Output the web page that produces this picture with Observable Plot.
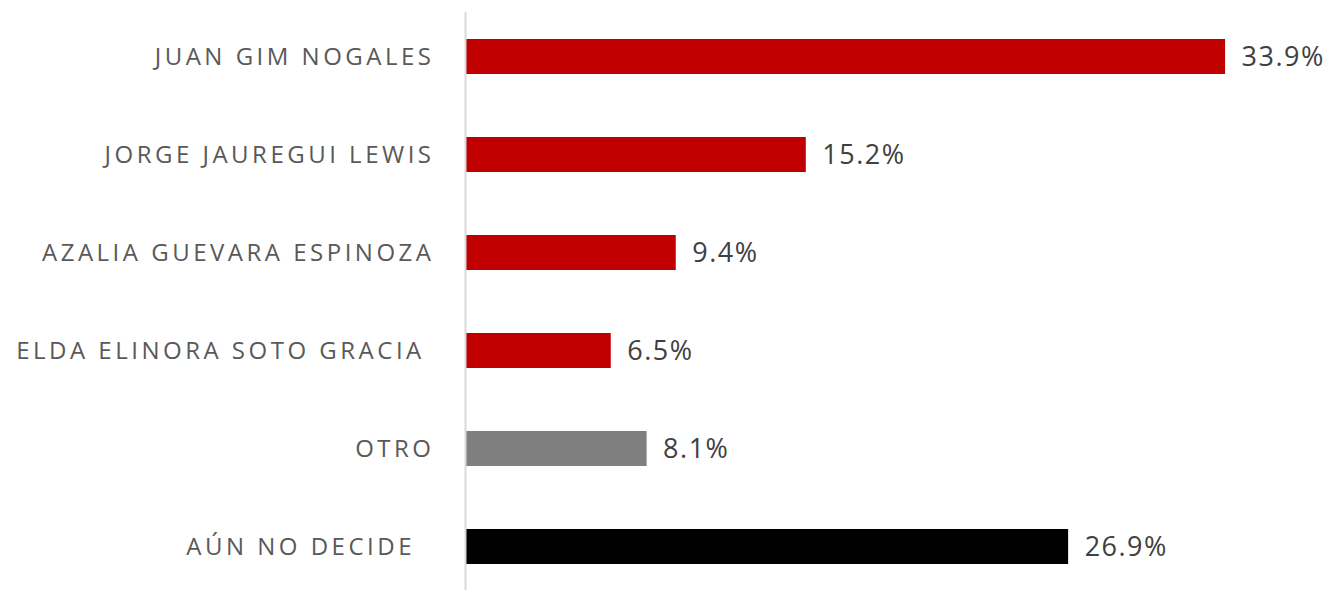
<!DOCTYPE html>
<html>
<head>
<meta charset="utf-8">
<script src="https://cdn.jsdelivr.net/npm/d3@7"></script>
<script src="https://cdn.jsdelivr.net/npm/@observablehq/plot@0.6"></script>
<style>
  html, body { margin: 0; padding: 0; background: #fff; }
  #chart svg { display: block; }
  .chart g[aria-label="y-axis tick label"] text { letter-spacing: 3.5px; }
  .chart g[aria-label="text"] text { letter-spacing: 1.5px; }
</style>
</head>
<body>
<div id="chart"></div>
<script>
const categories = ["JUAN GIM NOGALES", "JORGE JAUREGUI LEWIS", "AZALIA GUEVARA ESPINOZA", "ELDA ELINORA SOTO GRACIA\u00a0", "OTRO", "AÚN NO DECIDE\u00a0\u00a0"];
const values = [33.9, 15.2, 9.4, 6.5, 8.1, 26.9];
const groups = ["cand", "cand", "cand", "cand", "otro", "nd"];
const groupColors = {cand: "#c00000", otro: "#7f7f7f", nd: "#000000"};

const data = categories.map((c, i) => ({name: c, value: values[i], group: groups[i]}));

const chart = Plot.plot({
  className: "chart",
  width: 1329,
  height: 592,
  marginLeft: 465,
  marginRight: 12,
  marginTop: 12,
  marginBottom: 2,
  style: {fontFamily: "'Open Sans', sans-serif", background: "#fff"},
  x: {domain: [0, 38], axis: null},
  y: {domain: categories, paddingInner: 0.644, paddingOuter: 0.26, label: null},
  marks: [
    Plot.barX(data, {y: "name", x: "value", fill: d => groupColors[d.group]}),
    Plot.ruleX([0], {stroke: "#d9d9d9", strokeWidth: 2}),
    Plot.axisY({tickSize: 0, tickPadding: 31, fontSize: 24, fill: "#595959", label: null}),
    Plot.text(data, {y: "name", x: "value", text: d => d.value.toFixed(1) + "%", textAnchor: "start", dx: 16, fontSize: 27, fill: "#404040"})
  ]
});
document.getElementById("chart").append(chart);
</script>
</body>
</html>
